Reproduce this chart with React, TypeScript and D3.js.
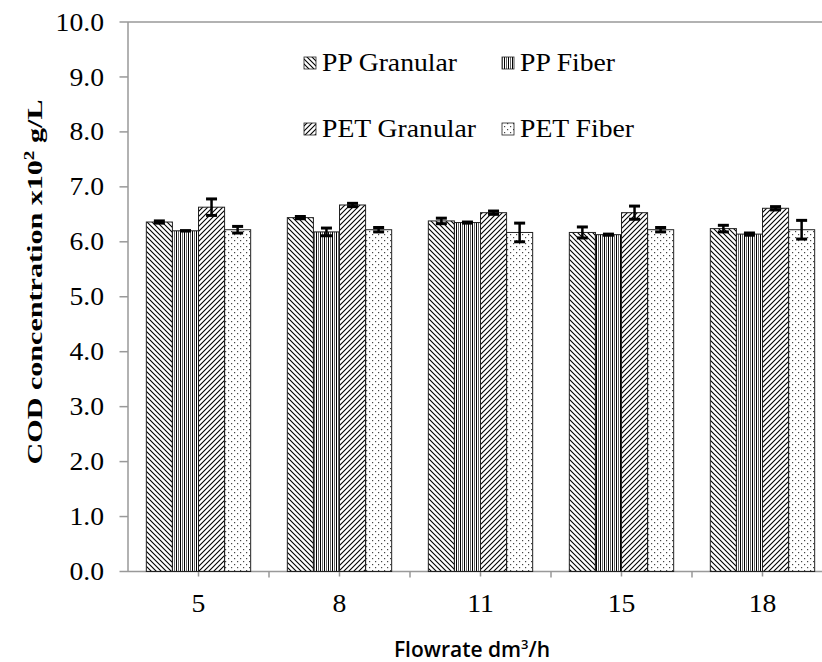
import React from "react";
import * as d3 from "d3";

const categories = ["5", "8", "11", "15", "18"];
const seriesNames = ["PP Granular", "PP Fiber", "PET Granular", "PET Fiber"];
const ppGranular = [6.36, 6.44, 6.38, 6.17, 6.24];
const ppGranularErr = [0.02, 0.02, 0.05, 0.1, 0.06];
const ppFiber = [6.2, 6.18, 6.35, 6.13, 6.14];
const ppFiberErr = [0.0, 0.07, 0.01, 0.01, 0.02];
const petGranular = [6.63, 6.67, 6.53, 6.53, 6.61];
const petGranularErr = [0.15, 0.03, 0.03, 0.12, 0.03];
const petFiber = [6.22, 6.22, 6.17, 6.22, 6.22];
const petFiberErr = [0.06, 0.04, 0.17, 0.04, 0.17];
const yTicks = [0, 1, 2, 3, 4, 5, 6, 7, 8, 9, 10];

const values = [ppGranular, ppFiber, petGranular, petFiber];
const errors = [ppGranularErr, ppFiberErr, petGranularErr, petFiberErr];
const patternIds = ["pat-ppg", "pat-ppf", "pat-petg", "pat-petf"];

const W = 822;
const H = 662;
const left = 128;
const right = 833; // plot runs past the picture edge, as in the original
const top = 22;
const bottom = 571.5;

// the original's text is a little wider than plain Times
const serifStyle = { fontFamily: "'Times New Roman', 'Liberation Serif', serif" };
const stretch = 1.13;

export default function App() {
  const x = d3
    .scaleBand()
    .domain(categories)
    .range([left, right])
    .paddingInner(0.26)
    .paddingOuter(0.13);
  const xs = d3
    .scaleBand()
    .domain(seriesNames)
    .range([0, x.bandwidth()]);
  const y = d3.scaleLinear().domain([0, 10]).range([bottom, top]);
  const step = x.step();
  const boundaries = categories.slice(1).map(c => (x(c) as number) - (step - x.bandwidth()) / 2);

  return (
    <svg
      width={W}
      height={H}
      style={{ position: "absolute", left: 0, top: 0, background: "#fff" }}
    >
      <defs>
        <pattern id="pat-ppg" patternUnits="userSpaceOnUse" width="5" height="5">
          <path d="M-1,-1 L6,6 M-1,4 L1,6 M4,-1 L6,1" stroke="#000" strokeWidth="1.1" />
        </pattern>
        <pattern id="pat-ppf" patternUnits="userSpaceOnUse" width="4" height="4">
          <rect x="0" y="0" width="1" height="4" fill="#000" />
          <rect x="2" y="0" width="1" height="4" fill="#666" />
        </pattern>
        <pattern id="pat-petg" patternUnits="userSpaceOnUse" width="5" height="5">
          <path d="M-1,6 L6,-1 M-1,1 L1,-1 M4,6 L6,4" stroke="#000" strokeWidth="1.1" />
        </pattern>
        <pattern id="pat-petf" patternUnits="userSpaceOnUse" width="6" height="6">
          <rect x="0" y="0" width="1.2" height="1.2" fill="#444" />
          <rect x="3" y="3" width="1.2" height="1.2" fill="#444" />
        </pattern>
      </defs>

      {/* plot frame top + axes */}
      <line x1={left} x2={right} y1={top} y2={top} stroke="#999" strokeWidth={1.5} />
      <line x1={left} x2={left} y1={top} y2={bottom} stroke="#999" strokeWidth={1.5} />
      <line x1={left} x2={right} y1={bottom} y2={bottom} stroke="#999" strokeWidth={1.5} />

      {yTicks.map(t => (
        <g key={t}>
          <line x1={left - 8.5} x2={left} y1={y(t)} y2={y(t)} stroke="#999" strokeWidth={1.5} />
          <text
            transform={`translate(104,${y(t)}) scale(${stretch},1)`}
            dy="0.35em"
            textAnchor="end"
            style={serifStyle}
            fontSize={24.5}
            fill="#000"
          >
            {t.toFixed(1)}
          </text>
        </g>
      ))}

      {boundaries.map((b, i) => (
        <line key={"b" + i} x1={b} x2={b} y1={bottom} y2={bottom + 6} stroke="#999" strokeWidth={1.5} />
      ))}

      {categories.map((c, i) => {
        const cx = (x(c) as number) + x.bandwidth() / 2;
        return (
          <g key={c}>
            <line x1={cx} x2={cx} y1={bottom} y2={bottom + 5} stroke="#999" strokeWidth={1.5} />
            <text
              transform={`translate(${cx},612) scale(${stretch},1)`}
              textAnchor="middle"
              style={serifStyle}
              fontSize={24.5}
              fill="#000"
            >
              {c}
            </text>
            {seriesNames.map((s, j) => {
              const bx = (x(c) as number) + (xs(s) as number);
              const v = values[j][i];
              return (
                <rect
                  key={s}
                  x={bx}
                  y={y(v)}
                  width={xs.bandwidth()}
                  height={y(0) - y(v)}
                  fill={`url(#${patternIds[j]})`}
                  stroke="#222"
                  strokeWidth={1}
                />
              );
            })}
            {seriesNames.map((s, j) => {
              const ex = (x(c) as number) + (xs(s) as number) + xs.bandwidth() / 2;
              const v = values[j][i];
              const e = errors[j][i];
              return (
                <g key={"e" + s} stroke="#000">
                  <line x1={ex} x2={ex} y1={y(v + e)} y2={y(v - e)} strokeWidth={2.5} />
                  <line x1={ex - 5.5} x2={ex + 5.5} y1={y(v + e)} y2={y(v + e)} strokeWidth={3} />
                  <line x1={ex - 5.5} x2={ex + 5.5} y1={y(v - e)} y2={y(v - e)} strokeWidth={3} />
                </g>
              );
            })}
          </g>
        );
      })}

      {/* legend */}
      {seriesNames.map((s, j) => {
        const col = j % 2;
        const row = Math.floor(j / 2);
        const lx = col === 0 ? 304 : 502;
        const ly = row === 0 ? 71 : 137;
        return (
          <g key={"leg" + s}>
            <rect
              x={lx}
              y={ly - 14}
              width={12}
              height={12}
              fill={`url(#${patternIds[j]})`}
              stroke="#222"
              strokeWidth={0.8}
            />
            <text
              transform={`translate(${lx + 18},${ly}) scale(${stretch},1)`}
              style={serifStyle}
              fontSize={24.5}
              fill="#000"
            >
              {s}
            </text>
          </g>
        );
      })}

      {/* axis titles */}
      <text
        transform="translate(42,282) rotate(-90)"
        textAnchor="middle"
        style={serifStyle}
        fontWeight="bold"
        fontSize={22}
        textLength={365}
        lengthAdjust="spacingAndGlyphs"
        fill="#000"
      >
        COD concentration x10<tspan dy="-8" fontSize={14}>2</tspan>
        <tspan dy="8">{"  g/L"}</tspan>
      </text>
      <text
        x={472}
        y={657}
        textAnchor="middle"
        fontFamily="'Open Sans', sans-serif"
        fontWeight={600}
        fontSize={21}
        fill="#000"
      >
        Flowrate dm<tspan dy="-8" fontSize={13}>3</tspan>
        <tspan dy="8">/h</tspan>
      </text>
    </svg>
  );
}
